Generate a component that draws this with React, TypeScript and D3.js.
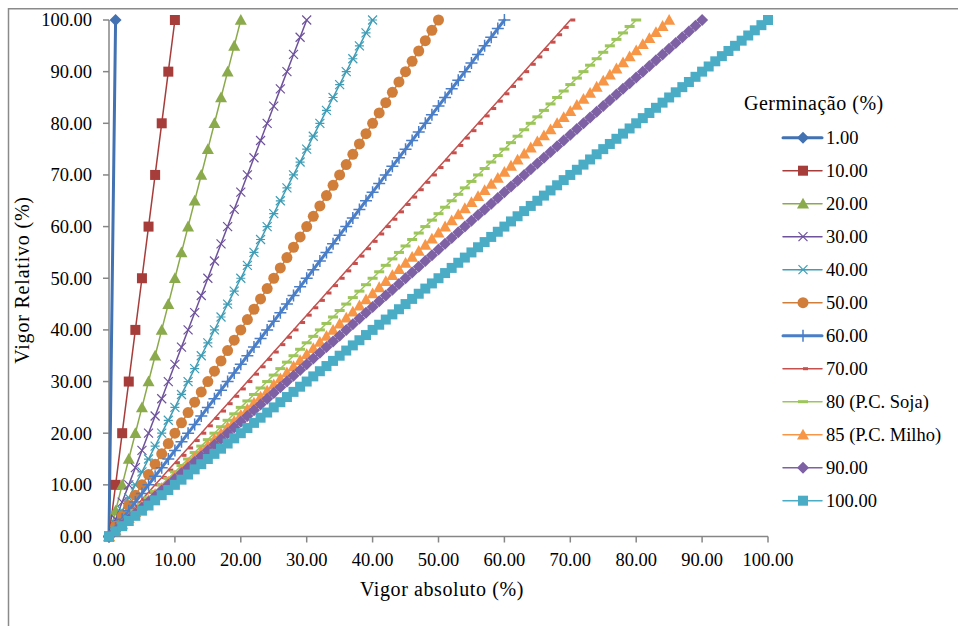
import React from "react";
import * as d3 from "d3";

// Germinação (%) values — one series each
const germinacao = [1, 10, 20, 30, 40, 50, 60, 70, 80, 85, 90, 100];
const legendLabels = [
  "1.00", "10.00", "20.00", "30.00", "40.00", "50.00",
  "60.00", "70.00", "80 (P.C. Soja)", "85 (P.C. Milho)", "90.00", "100.00",
];
const seriesColors = [
  "#4272B2", "#A63D3B", "#8BAA4C", "#6E529C", "#3F9DB6", "#D17E3B",
  "#4A7EC7", "#C6504D", "#9CC55A", "#F79646", "#7E60A5", "#4BACC6",
];
const markerKinds = [
  "diamond", "square", "triangle", "x", "star", "circle",
  "plus", "shortdash", "dash", "triangle", "diamond", "square",
];
const lineWidths = [3, 1.5, 1.5, 1.5, 1.5, 1.5, 3, 1.5, 1.5, 1.5, 1.5, 1.5];
// Vigor absoluto sampled in steps of 1 from 0 to the germinação value;
// Vigor relativo = vigor absoluto / germinação × 100 (definition of the chart)
const xStep = 1;

const xTicks = [0, 10, 20, 30, 40, 50, 60, 70, 80, 90, 100];
const yTicks = [0, 10, 20, 30, 40, 50, 60, 70, 80, 90, 100];

const FONT = "'Times New Roman', Times, Tinos, 'Liberation Serif', 'Noto Serif', 'DejaVu Serif', FreeSerif, serif";

function Marker({ kind, x, y, color }: { kind: string; x: number; y: number; color: string }) {
  switch (kind) {
    case "diamond": {
      const r = 6;
      return <path d={`M${x},${y - r}L${x + r},${y}L${x},${y + r}L${x - r},${y}Z`} fill={color} />;
    }
    case "square": {
      const s = 10;
      return <rect x={x - s / 2} y={y - s / 2} width={s} height={s} fill={color} />;
    }
    case "triangle": {
      const r = 6;
      return <path d={`M${x},${y - r}L${x + r},${y + r * 0.8}L${x - r},${y + r * 0.8}Z`} fill={color} />;
    }
    case "x": {
      const r = 4.5;
      return (
        <path d={`M${x - r},${y - r}L${x + r},${y + r}M${x - r},${y + r}L${x + r},${y - r}`} stroke={color} strokeWidth={1.2} fill="none" />
      );
    }
    case "star": {
      const r = 4.5;
      return (
        <path
          d={`M${x - r},${y - r}L${x + r},${y + r}M${x - r},${y + r}L${x + r},${y - r}M${x - r},${y}L${x + r},${y}`}
          stroke={color} strokeWidth={1.2} fill="none"
        />
      );
    }
    case "circle":
      return <circle cx={x} cy={y} r={5.5} fill={color} />;
    case "plus": {
      const r = 6;
      return <path d={`M${x - r},${y}L${x + r},${y}M${x},${y - r}L${x},${y + r}`} stroke={color} strokeWidth={1.5} fill="none" />;
    }
    case "shortdash":
      return <rect x={x} y={y - 1.5} width={5} height={3} fill={color} />;
    case "dash":
      return <rect x={x - 5} y={y - 1.5} width={10} height={3} fill={color} />;
    default:
      return null;
  }
}

export default function App() {
  const W = 958, H = 626;
  const x = d3.scaleLinear().domain([0, 100]).range([109, 768]);
  const y = d3.scaleLinear().domain([0, 100]).range([536.5, 20]);
  const fmt = d3.format(".2f");
  const line = d3.line<[number, number]>().x((d) => x(d[0])).y((d) => y(d[1]));

  const series = germinacao.map((g) => {
    const xs = d3.range(0, g + xStep / 2, xStep);
    return xs.map((v) => [v, (v / g) * 100] as [number, number]);
  });

  const legendX = 783, legendY0 = 137.7, legendDy = 33;
  const txt = { fontFamily: FONT } as React.CSSProperties;

  return (
    <svg width={W} height={H} style={{ position: "absolute", left: 0, top: 0, background: "#fff", fontFamily: FONT }}>
      <rect x={0} y={0} width={W} height={H} fill="#fff" />
      {/* chart border */}
      <path d={`M8.5,${H}V8.75H${W}`} fill="none" stroke="#8a8a8a" strokeWidth={1.5} />

      {/* axes */}
      <line x1={x(0)} x2={x(0)} y1={y(0)} y2={y(100)} stroke="#868686" strokeWidth={1.5} />
      <line x1={x(0)} x2={x(100)} y1={y(0)} y2={y(0)} stroke="#868686" strokeWidth={1.5} />
      {yTicks.map((t) => (
        <g key={"y" + t}>
          <line x1={x(0) - 6} x2={x(0)} y1={y(t)} y2={y(t)} stroke="#868686" strokeWidth={1.5} />
          <text style={txt} x={92} y={y(t)} dy="0.35em" textAnchor="end" fontSize={18.5} fill="#000">{fmt(t)}</text>
        </g>
      ))}
      {xTicks.map((t) => (
        <g key={"x" + t}>
          <line x1={x(t)} x2={x(t)} y1={y(0)} y2={y(0) + 6} stroke="#868686" strokeWidth={1.5} />
          <text style={txt} x={x(t)} y={560} dy="0.35em" textAnchor="middle" fontSize={18.5} fill="#000">{fmt(t)}</text>
        </g>
      ))}

      {/* axis titles */}
      <text style={txt} x={442} y={589} dy="0.35em" textAnchor="middle" fontSize={20} letterSpacing={0.6} fill="#000">Vigor absoluto (%)</text>
      <text style={txt} transform={`translate(22,280) rotate(-90)`} dy="0.35em" textAnchor="middle" fontSize={20} letterSpacing={0.8} fill="#000">Vigor Relativo (%)</text>

      {/* series */}
      {series.map((pts, i) => (
        <g key={"s" + i}>
          <path d={line(pts) || ""} fill="none" stroke={seriesColors[i]} strokeWidth={lineWidths[i]} strokeLinecap="round" />
          {pts.map((p, j) => (
            <Marker key={j} kind={markerKinds[i]} x={x(p[0])} y={y(p[1])} color={seriesColors[i]} />
          ))}
        </g>
      ))}

      {/* legend */}
      <text style={txt} x={744} y={103} dy="0.35em" fontSize={20} letterSpacing={0.5} fill="#000">Germinação (%)</text>
      {germinacao.map((g, i) => {
        const ly = legendY0 + i * legendDy;
        return (
          <g key={"l" + i}>
            <line x1={legendX} x2={legendX + 39} y1={ly} y2={ly} stroke={seriesColors[i]} strokeWidth={lineWidths[i]} strokeLinecap="round" />
            <Marker kind={markerKinds[i]} x={legendX + 20} y={ly} color={seriesColors[i]} />
            <text style={txt} x={826} y={ly} dy="0.35em" fontSize={18.5} fill="#000">{legendLabels[i]}</text>
          </g>
        );
      })}
    </svg>
  );
}
